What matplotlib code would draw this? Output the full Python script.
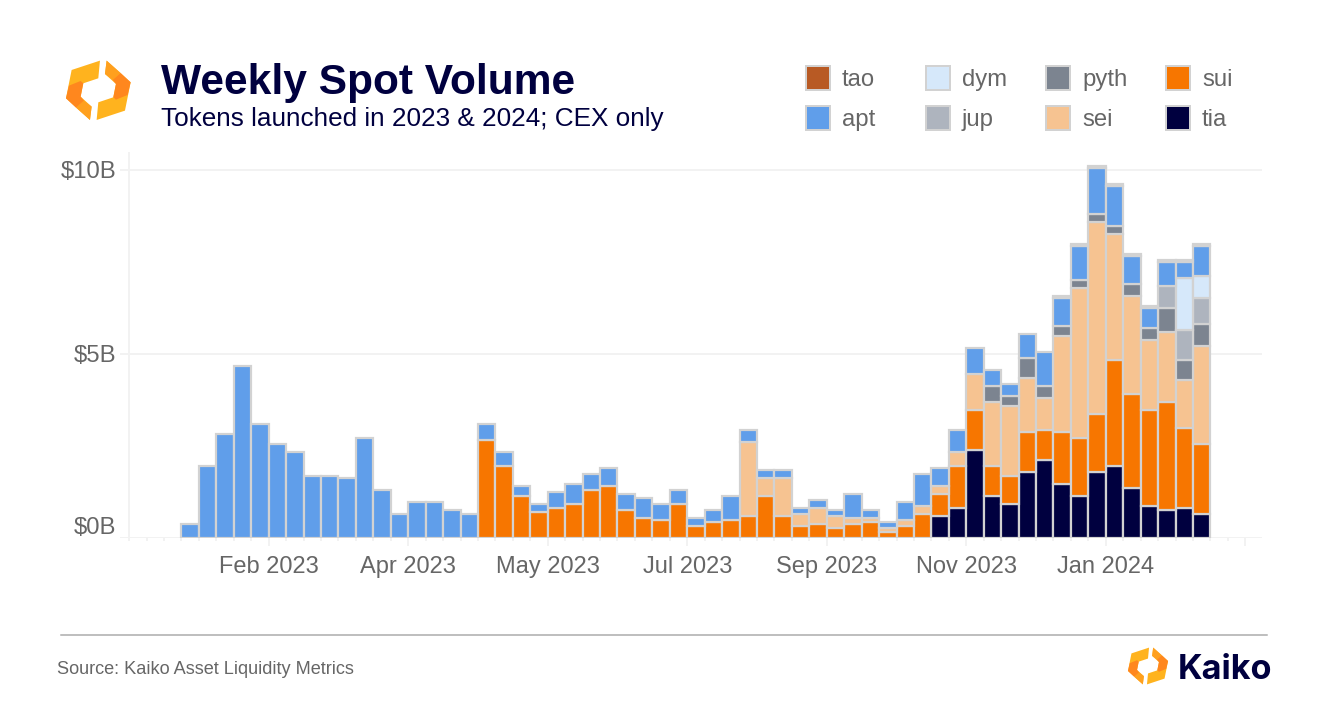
import numpy as np
import matplotlib
matplotlib.use('Agg')
import matplotlib.pyplot as plt
from matplotlib.patches import Polygon, Rectangle
from matplotlib.lines import Line2D
from matplotlib.transforms import ScaledTranslation

plt.rcParams['font.family'] = ['Liberation Sans', 'DejaVu Sans']

tia = [0]*43 + [.60,.82,2.39,1.14,.92,1.79,2.12,1.47,1.14,1.79,1.96,1.36,.87,.76,.82,.65]
sui = [0]*17 + [2.66,1.96,1.14,.71,.82,.92,1.30,1.41,.76,.54,.49,.92,.33,.43,.49,.60,1.14,.60,.33,.38,.27,.38,.43,
                .16,.33,.65,.60,1.14,1.09,.82,.76,1.09,.81,1.41,1.58,1.58,2.88,2.55,2.61,2.94,2.17,1.90]
sei = [0]*32 + [2.01,.49,1.03,.32,.44,.33,.16,.11,.12,.16,.22,.21,.38,.98,1.74,1.91,1.47,.87,2.61,4.07,5.22,3.42,2.67,1.90,1.90,1.30,2.67]
pyth = [0]*46 + [.43,.27,.54,.33,.27,.22,.21,.22,.32,.33,.65,.55,.60]
jup = [0]*56 + [.60,.81,.70]
dym = [0]*57 + [1.42,.60]
apt = [.38,1.96,2.83,4.67,3.10,2.55,2.34,1.68,1.68,1.63,2.72,1.30,.65,.98,.98,.76,.65,
       .44,.38,.27,.21,.43,.55,.44,.49,.44,.55,.43,.38,.21,.33,.65,.32,.22,.22,.17,.21,.16,.66,.22,.16,.49,.87,.49,.59,.70,
       .44,.32,.65,.92,.76,.92,1.25,1.09,.76,.54,.65,.43,.81]
tao = [0]*50 + [.05]*9

series = [('tia', tia, '#00003F'), ('sui', sui, '#F77600'), ('sei', sei, '#F6C391'),
          ('pyth', pyth, '#7C8490'), ('jup', jup, '#AEB4BE'), ('dym', dym, '#D6E8FA'),
          ('apt', apt, '#609EEA'), ('tao', tao, '#B85A24')]
legend_rows = [['tao', 'dym', 'pyth', 'sui'], ['apt', 'jup', 'sei', 'tia']]
month_labels = ['Feb 2023', 'Apr 2023', 'May 2023', 'Jul 2023', 'Sep 2023', 'Nov 2023', 'Jan 2024', '']
y_ticks = [0, 5, 10]
y_labels = ['$0B', '$5B', '$10B']

W, H = 1320, 720
NAVY = '#00003F'
GREY = '#666666'
EDGE = '#D2D2D2'
GRID = '#F2F2F2'
px = 72 / 100

fig = plt.figure(figsize=(W / 100, H / 100), dpi=100, facecolor='white')
left, right, top, bottom = 120, 1262, 151.6, 538
ax = fig.add_axes([left / W, 1 - bottom / H, (right - left) / W, (bottom - top) / H])
ax.set_facecolor('none')
pitch = 17.44
x0 = 190.2
ax.set_xlim((left - x0) / pitch, (right - x0) / pitch)
ax.set_ylim(0, (bottom - top) / 36.8)
for s in ax.spines.values():
    s.set_visible(False)

ax.set_axisbelow(True)
ax.yaxis.grid(True, color=GRID, lw=2 * px)
ax.xaxis.grid(False)
ax.axvline(-3.5, color=GRID, lw=2 * px, zorder=0.5)

n = len(apt)
xs = np.arange(n)
base = np.zeros(n)
for name, vals, col in series:
    v = np.array(vals, float)
    keep = v > 0
    ax.bar(xs[keep], v[keep], width=1.0, bottom=base[keep], color=col, edgecolor=EDGE,
           linewidth=2.2 * px, zorder=2, label=name)
    base += v

ax.set_yticks(y_ticks, y_labels)
ax.tick_params(axis='y', length=0, pad=2.5, labelsize=17.2, labelcolor=GREY)
major = np.arange(4.5, 62, 8)
ax.set_xticks(major, month_labels)
ax.set_xticks(np.arange(-3.5, 61, 1), minor=True)
ax.tick_params(axis='x', which='major', length=8 * px, width=2 * px, color=GRID, pad=7, labelsize=17, labelcolor=GREY)
ax.tick_params(axis='x', which='minor', length=3 * px, width=2 * px, color=GRID)
# the zero label sits above its tick in the reference
ax.get_yticklabels()[0].set_transform(
    ax.get_yticklabels()[0].get_transform() + ScaledTranslation(0, 13 / 100, fig.dpi_scale_trans))


def X(x):
    return x / W


def Y(y):
    return 1 - y / H


fig.text(X(161), Y(94), 'Weekly Spot Volume', fontsize=30.6, fontweight='bold', color=NAVY, va='baseline')
fig.text(X(161), Y(126), 'Tokens launched in 2023 & 2024; CEX only', fontsize=18.8, color=NAVY, va='baseline')

colors = {name: col for name, _, col in series}
for r, row in enumerate(legend_rows):
    for c, name in enumerate(row):
        sx = 806 + 120 * c
        sy = 66 + 40 * r
        fig.add_artist(Rectangle((X(sx), Y(sy + 24)), 24 / W, 24 / H, transform=fig.transFigure,
                                 facecolor=colors[name], edgecolor=EDGE, linewidth=2 * px))
        fig.text(X(sx + 36), Y(sy + 20), name, fontsize=17.2, color=GREY, va='baseline')

fig.add_artist(Line2D([X(61), X(1267)], [Y(635), Y(635)], color='#AAAAAA', lw=1.5 * px))
fig.text(X(57), Y(674), 'Source: Kaiko Asset Liquidity Metrics', fontsize=13.05, color=GREY, va='baseline')

PIECE = [(120, 17), (35, 45), (18, 130), (90, 195), (95, 155), (62, 125), (70, 85), (115, 70)]
SHADE = [(18, 130), (27, 92), (62, 78), (70, 85), (62, 125), (72, 137), (48, 158)]
TIP = [(48, 158), (72, 137), (95, 155), (90, 195)]


def logo(cx, cy, scale):
    c0 = (115, 106)
    for pts, col in ((PIECE, '#FFB31E'), (TIP, '#FFA01E'), (SHADE, '#FF871E')):
        for sgn in (1, -1):
            out = [(X(cx + sgn * (p[0] - c0[0]) / 3 * scale), Y(cy + sgn * (p[1] - c0[1]) / 3 * scale)) for p in pts]
            fig.add_artist(Polygon(out, closed=True, transform=fig.transFigure, facecolor=col, edgecolor='none'))


logo(98.3, 90.3, 1.0)
logo(1148, 666, 0.62)
fig.text(X(1178), Y(679), 'Kaiko', fontsize=24.6, fontweight='bold', color=NAVY, family='Inter', va='baseline')

fig.savefig('out.png', dpi=100, facecolor='white')
